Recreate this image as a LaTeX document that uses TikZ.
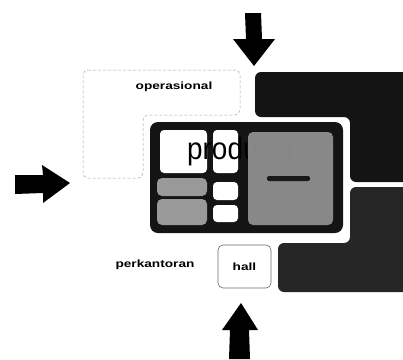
\documentclass[tikz,border=0pt]{standalone}
\usepackage{fontspec}
\setmainfont{Liberation Sans}
\begin{document}
\begin{tikzpicture}[x=1pt,y=-1pt,
  blk/.style={fill=black!92, draw=none, rounded corners=6pt},
  dk/.style={fill=black!85, draw=none, rounded corners=6pt},
  wbox/.style={fill=white, draw=none, rounded corners=4pt},
  gbox/.style={fill=black!40, draw=none, rounded corners=5pt},
  arrowfill/.style={fill=black, draw=none},
  lbl/.style={font=\bfseries\fontsize{10.5}{11}\selectfont, inner sep=1pt, xscale=1.3},
  dashbox/.style={draw=black!35, densely dashed, line width=0.5pt, rounded corners=5pt}
]
\useasboundingbox (0,0) rectangle (403,359);
\fill[white] (0,0) rectangle (403,359);

% dashed L-shaped area
\draw[dashbox] (83,70) -- (240,70) -- (240,115) -- (143,115) -- (143,178) -- (83,178) -- cycle;
\node[lbl] (oper) at (174,87) {operasional};

% dark outer shapes on the right
\fill[blk] (255,72) -- (412,72) -- (412,182) -- (350,182) -- (350,117) -- (255,117) -- cycle;
\fill[dk] (350,187) -- (412,187) -- (412,292) -- (278,292) -- (278,243) -- (350,243) -- cycle;

% main box
\fill[blk, rounded corners=8pt] (150,122) rectangle (343,233);
\fill[wbox] (160,130) rectangle (207,173);
\fill[wbox] (213,130) rectangle (238,173);
\fill[wbox] (213,182) rectangle (238,200);
\fill[wbox] (213,205) rectangle (238,222);
\fill[gbox] (157,178) rectangle (207,196);
\fill[gbox] (157,199) rectangle (207,225);

\node[anchor=base west, inner sep=0pt, xscale=0.9, font=\fontsize{31}{33}\selectfont] (prod) at (187,159) {produksi};

\fill[gbox, fill opacity=0.88] (248,132) rectangle (333,225);
\fill[black!90, rounded corners=2pt] (267,176) rectangle (310,181);

% perkantoran and hall
\node[lbl] (perk) at (155,265) {perkantoran};
\draw[draw=black!60, line width=0.6pt, rounded corners=5pt] (218,245) rectangle (271,288);
\node[lbl] (hall) at (244.5,267) {hall};

% arrows
\fill[arrowfill] (245,13) -- (261,13) -- (262,39) -- (275,39) -- (254,66) -- (233,39) -- (246,39) -- cycle;
\fill[arrowfill] (15,175) -- (43,175) -- (42,165) -- (70,183) -- (43,203) -- (43,193) -- (15,194) -- cycle;
\fill[arrowfill] (241,303) -- (258,330) -- (249,330) -- (250,359) -- (229,359) -- (230,330) -- (222,330) -- cycle;
\end{tikzpicture}
\end{document}
